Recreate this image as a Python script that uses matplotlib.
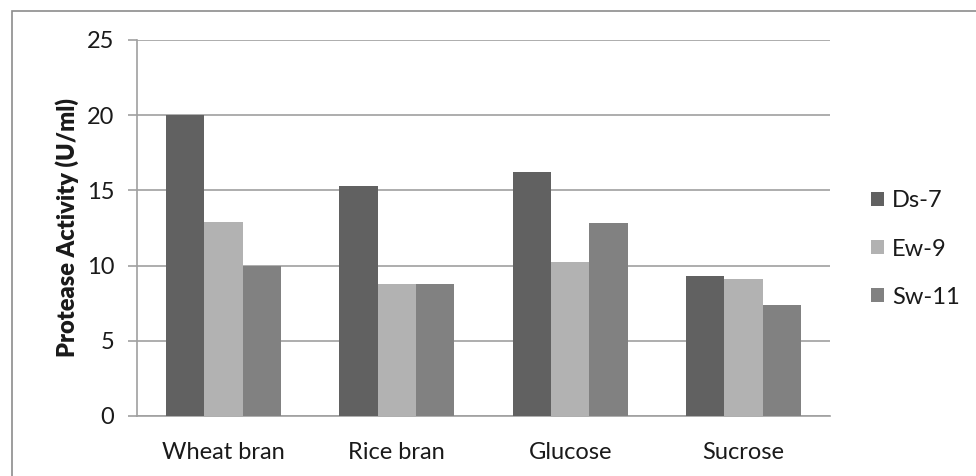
import matplotlib
matplotlib.use("Agg")
import matplotlib.pyplot as plt
import numpy as np
from matplotlib.patches import Rectangle

plt.rcParams['font.family'] = ['Lato', 'DejaVu Sans']

# data
substrates = ["Wheat bran", "Rice bran", "Glucose", "Sucrose"]
ds7 = [20.0, 15.3, 16.2, 9.3]
ew9 = [12.9, 8.8, 10.25, 9.1]
sw11 = [10.0, 8.75, 12.8, 7.35]
series_names = ["Ds-7", "Ew-9", "Sw-11"]
series_colors = ["#616161", "#b2b2b2", "#818181"]
y_ticks = [0, 5, 10, 15, 20, 25]

fig = plt.figure(figsize=(9.76, 4.76), dpi=100)
ax = fig.add_axes([137 / 976, 60 / 476, 693 / 976, 376 / 476])

# outer chart frame (cropped on right and bottom in the reference)
fig.patches.append(Rectangle((12 / 976, -0.1), 1.2, (465 / 476) + 0.1,
                             transform=fig.transFigure, fill=False,
                             edgecolor="#8c8c8c", linewidth=1.2))

x = np.arange(len(substrates))
w = 0.2215
for i, (vals, name, col) in enumerate(zip([ds7, ew9, sw11], series_names, series_colors)):
    ax.bar(x + (i - 1) * w, vals, width=w, color=col, label=name, zorder=3)

ax.set_xlim(-0.5, len(substrates) - 0.5)
ax.set_ylim(0, 25)
ax.set_yticks(y_ticks)
ax.set_xticks(x)
ax.set_xticklabels(substrates)

ax.yaxis.grid(True, color="#a0a0a0", linewidth=1.2, zorder=0)
ax.set_axisbelow(True)
for s in ["top", "right"]:
    ax.spines[s].set_visible(False)
for s in ["left", "bottom"]:
    ax.spines[s].set_color("#a0a0a0")
    ax.spines[s].set_linewidth(1.2)

ax.tick_params(axis="y", length=6.5, width=1.2, color="#a0a0a0", pad=10,
               labelsize=17, labelcolor="#1a1a1a")
ax.tick_params(axis="x", length=0, pad=19, labelsize=17, labelcolor="#1a1a1a")

ax.set_ylabel("Protease Activity (U/ml)", fontsize=17, fontweight="heavy", color="#1a1a1a")
ax.yaxis.set_label_coords(-0.083, 0.5)

fig.legend(loc="center left", bbox_to_anchor=(871 / 976, 1 - 249 / 476),
           frameon=False, fontsize=17, handlelength=0.55, handleheight=0.55,
           handletextpad=0.35, labelspacing=1.15, borderpad=0, borderaxespad=0,
           labelcolor="#1a1a1a")

fig.savefig("out.png", dpi=100)
